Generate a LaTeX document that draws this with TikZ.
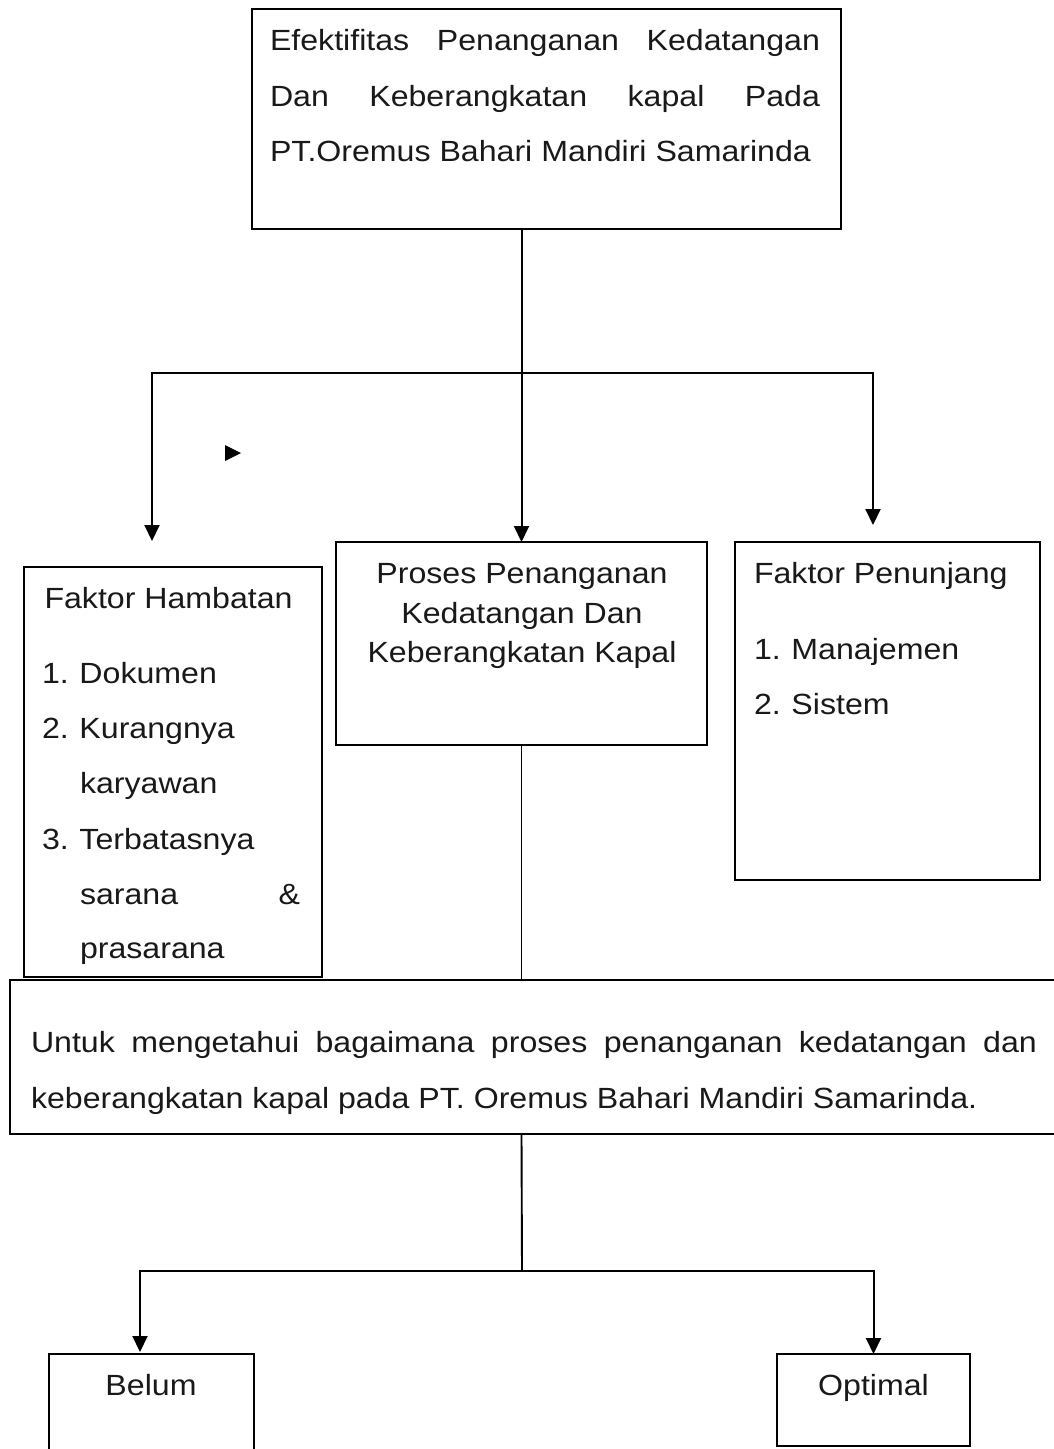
\documentclass[tikz,border=0pt]{standalone}
\usepackage{fontspec}
\setmainfont{Liberation Sans}[FakeStretch=1.1]
\usetikzlibrary{arrows.meta}
\definecolor{ink}{RGB}{25,25,25}
\begin{document}
\begin{tikzpicture}[x=1pt,y=-1pt,
  box/.style={draw=black, line width=2pt, anchor=north west, inner sep=0pt, outer sep=0pt},
  txt/.style={anchor=base west, inner sep=0pt, outer sep=0pt, text=ink, font=\fontsize{29.2}{35}\selectfont},
  ctxt/.style={txt, anchor=base},
  conn/.style={line width=2pt, -{Triangle[width=15pt,length=16pt]}},
  plain/.style={line width=1.9pt}]
\useasboundingbox (0,0) rectangle (1054,1449);
\clip (0,0) rectangle (1054,1449);
\fill[white] (0,0) rectangle (1054,1449);

% boxes
\node[box, minimum width=589pt, minimum height=220pt] (top) at (252,9) {};
\node[box, minimum width=298pt, minimum height=410pt] (hamb) at (24,567) {};
\node[box, minimum width=371pt, minimum height=203pt] (mid) at (336,542) {};
\node[box, minimum width=305pt, minimum height=338pt] (penu) at (735,542) {};
\node[box, minimum width=1080pt, minimum height=154pt] (wide) at (10,980) {};
\node[box, minimum width=205pt, minimum height=130pt] (belum) at (49,1354) {};
\node[box, minimum width=193pt, minimum height=92pt] (opt) at (777,1354) {};

% connectors
\coordinate (j1) at (522,373);
\coordinate (lt) at (152,541);
\coordinate (rt) at (873,525);
\draw[conn] (top.south -| mid.north) -- (mid.north);
\draw[conn] (j1) -| (lt);
\draw[conn] (j1) -| (rt);
\fill[black] (225,445) -- (241,453) -- (225,461) -- cycle;
\draw[plain] (mid.south) -- (mid.south |- wide.north);
\coordinate (j2) at (522,1271);
\coordinate (bl) at (140,1352);
\draw[plain] (mid.south |- wide.south) -- (j2);
\draw[conn] (j2) -| (bl);
\draw[conn] (j2) -| (opt.north);

% top box text
\node[txt] (t1) at (270,50) {\makebox[550pt][s]{Efektifitas Penanganan Kedatangan}};
\node[txt] (t2) at (270,106) {\makebox[550pt][s]{Dan Keberangkatan kapal Pada}};
\node[txt] (t3) at (270,161) {PT.Oremus Bahari Mandiri Samarinda};

% left box text
\node[txt] (h1) at (44.5,608) {Faktor Hambatan};
\node[txt] (h2) at (42,683) {\makebox[37.5pt][l]{1.}Dokumen};
\node[txt] (h3) at (42,738) {\makebox[37.5pt][l]{2.}Kurangnya};
\node[txt] (h4) at (80,793) {karyawan};
\node[txt] (h5) at (42,849) {\makebox[37.5pt][l]{3.}Terbatasnya};
\node[txt] (h6) at (80,904) {\makebox[220pt][s]{sarana \&}};
\node[txt] (h7) at (80,958) {prasarana};

% middle box text
\node[ctxt] (m1) at (522,583) {Proses Penanganan};
\node[ctxt] (m2) at (522,623) {Kedatangan Dan};
\node[ctxt] (m3) at (522,662) {Keberangkatan Kapal};

% right box text
\node[txt] (p1) at (754,583) {Faktor Penunjang};
\node[txt] (p2) at (754,659) {\makebox[37.5pt][l]{1.}Manajemen};
\node[txt] (p3) at (754,714) {\makebox[37.5pt][l]{2.}Sistem};

% wide box text
\node[txt] (w1) at (31,1052) {\makebox[1006pt][s]{Untuk mengetahui bagaimana proses penanganan kedatangan dan}};
\node[txt] (w2) at (31,1108) {keberangkatan kapal pada PT. Oremus Bahari Mandiri Samarinda.};

% bottom text
\node[ctxt] (b1) at (151,1395) {Belum};
\node[ctxt] (o1) at (873.5,1395) {Optimal};
\end{tikzpicture}
\end{document}
